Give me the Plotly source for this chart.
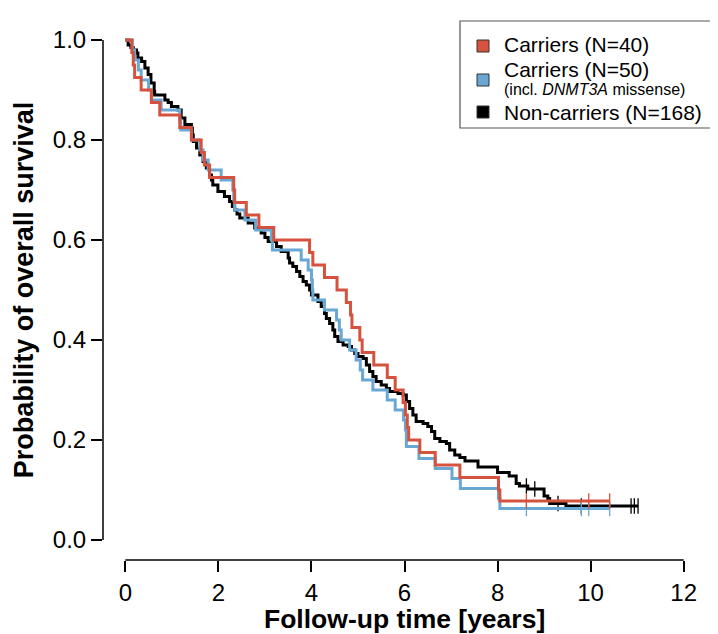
import plotly.graph_objects as go

# ---------------- data ----------------
# Carriers (N=40): event times (years) and survival after each step
car40_t = [0, 0.14, 0.17, 0.20, 0.34, 0.56, 0.74, 1.17, 1.42, 1.63, 1.70, 1.81, 2.33, 2.35,
           2.60, 2.87, 3.19, 3.96, 4.03, 4.28, 4.55, 4.75, 4.84, 4.87, 5.04, 5.09, 5.34, 5.63,
           5.80, 5.97, 6.02, 6.06, 6.09, 6.33, 6.66, 7.19, 8.02, 8.05, 10.41]
car40_s = [1.0, 0.975, 0.95, 0.925, 0.9, 0.875, 0.85, 0.825, 0.8, 0.775, 0.75, 0.725, 0.7, 0.675,
           0.65, 0.625, 0.6, 0.575, 0.55, 0.525, 0.5, 0.475, 0.45, 0.425, 0.4, 0.375, 0.35, 0.325,
           0.3, 0.275, 0.25, 0.225, 0.2, 0.175, 0.15, 0.125, 0.1, 0.078, 0.078]
car40_cens = [8.62, 9.96, 10.41]

# Carriers (N=50, incl. DNMT3A missense)
car50_t = [0, 0.15, 0.20, 0.28, 0.34, 0.50, 0.56, 0.77, 1.17, 1.19, 1.42, 1.60, 1.67, 1.78, 2.06,
           2.31, 2.33, 2.35, 2.57, 2.80, 3.14, 3.16, 3.78, 3.93, 4.00, 4.02, 4.03, 4.28, 4.54, 4.60,
           4.64, 4.82, 4.96, 5.05, 5.10, 5.32, 5.63, 5.80, 5.98, 6.02, 6.04, 6.31, 6.66, 7.02, 7.20,
           8.02, 8.05, 10.41]
car50_s = [1.0, 0.98, 0.96, 0.94, 0.92, 0.90, 0.88, 0.86, 0.84, 0.82, 0.80, 0.78, 0.76, 0.74, 0.72,
           0.70, 0.68, 0.66, 0.64, 0.62, 0.60, 0.58, 0.56, 0.54, 0.52, 0.50, 0.48, 0.46, 0.44, 0.42,
           0.40, 0.38, 0.36, 0.34, 0.32, 0.30, 0.28, 0.26, 0.24, 0.22, 0.187, 0.163, 0.143, 0.123, 0.103,
           0.083, 0.063, 0.063]
car50_cens = [8.62, 9.80, 9.96, 10.41]

# Non-carriers (N=168)
non_t = [0, 0.06, 0.12, 0.17, 0.24, 0.27, 0.35, 0.42, 0.49, 0.55,
         0.62, 0.63, 0.85, 0.92, 0.99, 1.13, 1.20, 1.28, 1.42, 1.44,
         1.46, 1.53, 1.60, 1.67, 1.74, 1.81, 1.85, 1.88, 1.99, 2.13,
         2.24, 2.30, 2.35, 2.40, 2.46, 2.64, 2.78, 2.92, 3.00, 3.07,
         3.25, 3.35, 3.50, 3.53, 3.60, 3.68, 3.75, 3.82, 3.89, 3.96,
         4.00, 4.14, 4.21, 4.28, 4.32, 4.39, 4.46, 4.50, 4.57, 4.68,
         4.79, 4.86, 4.93, 5.00, 5.11, 5.18, 5.25, 5.32, 5.39, 5.50,
         5.61, 5.68, 5.86, 5.97, 6.04, 6.11, 6.18, 6.25, 6.40, 6.50,
         6.58, 6.65, 6.76, 6.90, 6.97, 7.08, 7.19, 7.30, 7.58, 8.00,
         8.25, 8.40, 8.47, 8.65, 9.00, 9.08, 9.12, 9.47, 11.02]
non_s = [1.0, 0.99, 0.985, 0.98, 0.974, 0.964, 0.957, 0.944, 0.931, 0.914,
         0.897, 0.89, 0.88, 0.875, 0.867, 0.86, 0.844, 0.831, 0.824, 0.81,
         0.797, 0.784, 0.77, 0.757, 0.744, 0.73, 0.72, 0.71, 0.697, 0.687,
         0.677, 0.667, 0.66, 0.652, 0.644, 0.634, 0.624, 0.614, 0.605, 0.597,
         0.587, 0.577, 0.564, 0.554, 0.547, 0.537, 0.527, 0.517, 0.51, 0.50,
         0.49, 0.477, 0.467, 0.453, 0.443, 0.433, 0.42, 0.407, 0.397, 0.39,
         0.387, 0.38, 0.373, 0.367, 0.363, 0.35, 0.337, 0.327, 0.317, 0.31,
         0.303, 0.297, 0.293, 0.29, 0.277, 0.263, 0.25, 0.237, 0.233, 0.227,
         0.217, 0.203, 0.197, 0.193, 0.18, 0.17, 0.165, 0.158, 0.146, 0.135,
         0.128, 0.113, 0.108, 0.102, 0.088, 0.083, 0.073, 0.068, 0.068]
non_cens = [8.62, 8.80, 9.30, 9.80, 10.87, 10.94, 11.02]

x_ticks = [0, 2, 4, 6, 8, 10, 12]
y_ticks = [0.0, 0.2, 0.4, 0.6, 0.8, 1.0]

legend_main = ["Carriers (N=40)", "Carriers (N=50)", "Non-carriers (N=168)"]
legend_sub = ["", "(incl. <i>DNMT3A</i> missense)", ""]
x_title = "Follow-up time [years]"
y_title = "Probability of overall survival"

RED = "#d5533e"
BLUE = "#6aa8d4"
BLACK = "#000000"
FONT = "Liberation Sans, Arial, Helvetica, sans-serif"

# ---------------- layout geometry (pixels) ----------------
W, H = 718, 634
ML, MR, MT, MB = 95, 20, 12, 82
PW, PH = W - ML - MR, H - MT - MB


def px_x(px):
    return (px - ML) / PW


def px_y(py):
    return (H - MB - py) / PH


def surv_at(times, surv, t):
    val = surv[0]
    for ti, si in zip(times, surv):
        if ti <= t:
            val = si
    return val


fig = go.Figure()

series = [
    (non_t, non_s, non_cens, BLACK),
    (car50_t, car50_s, car50_cens, BLUE),
    (car40_t, car40_s, car40_cens, RED),
]
for times, surv, cens, col in series:
    fig.add_trace(go.Scatter(x=times, y=surv, mode="lines", line=dict(color=col, width=3, shape="hv"),
                             showlegend=False, hoverinfo="skip"))
    fig.add_trace(go.Scatter(x=cens, y=[surv_at(times, surv, c) for c in cens], mode="markers",
                             marker=dict(symbol="line-ns-open", size=11, color=col,
                                         line=dict(color=col, width=1.3)),
                             showlegend=False, hoverinfo="skip"))

# R-style detached axis lines
fig.add_shape(type="line", xref="x domain", x0=0, x1=0, yref="y", y0=min(y_ticks), y1=max(y_ticks),
              line=dict(color="black", width=1.5))
fig.add_shape(type="line", xref="x", x0=min(x_ticks), x1=max(x_ticks), yref="y domain", y0=0, y1=0,
              line=dict(color="black", width=1.5))

# legend box (runs off the right edge like the reference)
fig.add_shape(type="rect", xref="paper", yref="paper",
              x0=px_x(452), x1=px_x(740), y0=px_y(120), y1=px_y(13),
              line=dict(color="#555555", width=1.2), fillcolor="white", layer="above")
row_text_y = [37, 62, 104]
row_square_y = [38, 72, 104]
sub_y = 81
for lab, sub, col, ty, sy in zip(legend_main, legend_sub, [RED, BLUE, BLACK], row_text_y, row_square_y):
    fig.add_shape(type="rect", xref="paper", yref="paper",
                  x0=px_x(469), x1=px_x(481), y0=px_y(sy + 6), y1=px_y(sy - 6),
                  line=dict(color="#333333", width=1), fillcolor=col, layer="above")
    fig.add_annotation(xref="paper", yref="paper", x=px_x(494), y=px_y(ty), text=lab,
                       xanchor="left", yanchor="middle", showarrow=False,
                       font=dict(size=21, family=FONT, color="black"))
    if sub:
        fig.add_annotation(xref="paper", yref="paper", x=px_x(494), y=px_y(sub_y), text=sub,
                           xanchor="left", yanchor="middle", showarrow=False,
                           font=dict(size=16, family=FONT, color="black"))

# x-axis title (placed explicitly so it sits at the bottom edge like the reference)
fig.add_annotation(xref="x", yref="paper", x=(min(x_ticks) + max(x_ticks)) / 2, y=px_y(628),
                   text=x_title, xanchor="center", yanchor="bottom", showarrow=False,
                   font=dict(size=26.5, family=FONT, color="black", weight="bold"))

fig.update_layout(
    width=W, height=H,
    margin=dict(l=ML, r=MR, t=MT, b=MB),
    plot_bgcolor="white", paper_bgcolor="white",
    showlegend=False,
    font=dict(family=FONT, color="black", size=24),
    xaxis=dict(range=[-0.48, 12.48], tickvals=x_ticks, ticks="outside", ticklen=11, tickwidth=1.5,
               tickcolor="black", showline=False, showgrid=False, zeroline=False,
               tickfont=dict(size=24), automargin=False),
    yaxis=dict(range=[-0.04, 1.04], tickvals=y_ticks, tickformat=".1f", ticks="outside", ticklen=11,
               tickwidth=1.5, tickcolor="black", showline=False, showgrid=False, zeroline=False,
               tickfont=dict(size=24), automargin=False,
               title=dict(text=y_title, font=dict(size=27, weight="bold"), standoff=11)),
)

fig.write_html("out.html")
